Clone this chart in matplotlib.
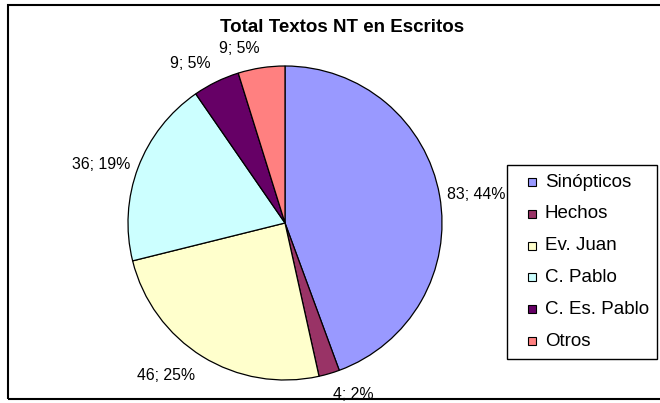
import numpy as np
import matplotlib
matplotlib.use('Agg')
import matplotlib.pyplot as plt
from matplotlib.patches import Rectangle

plt.rcParams['font.family'] = ['Liberation Sans', 'DejaVu Sans']

# datos del grafico
categorias = ['Sinópticos', 'Hechos', 'Ev. Juan', 'C. Pablo', 'C. Es. Pablo', 'Otros']
textos = [83, 4, 46, 36, 9, 9]
colores = ['#9999FF', '#993366', '#FFFFCC', '#CCFFFF', '#660066', '#FF8080']
titulo = 'Total Textos NT en Escritos'

W, H = 660, 403
fig = plt.figure(figsize=(W / 100, H / 100), dpi=100)

def px(x, y):
    # pixeles (origen arriba a la izquierda) -> coordenadas de figura
    return x / W, 1 - y / H

# borde del area del grafico (el lado derecho queda fuera de la imagen)
fig.patches.append(Rectangle(px(8, 399), 700 / W, 394 / H,
                             transform=fig.transFigure, fill=False,
                             edgecolor='black', linewidth=1.5))

# centro (285, 223) px, radio 157 px
cx, cy, r = 285, 223, 157
ax = fig.add_axes([(cx - r) / W, (H - cy - r) / H, 2 * r / W, 2 * r / H])
wedges, _ = ax.pie(textos, colors=colores, startangle=90, counterclock=False,
                   radius=1.0, wedgeprops=dict(edgecolor='black', linewidth=0.9))
ax.set_xlim(-1, 1)
ax.set_ylim(-1, 1)
ax.set_aspect('equal')
ax.axis('off')

total = sum(textos)
for w, v in zip(wedges, textos):
    th = np.deg2rad((w.theta1 + w.theta2) / 2)
    c, s = np.cos(th), np.sin(th)
    ha = 'left' if c > 0.1 else ('right' if c < -0.1 else 'center')
    if s > 0.5:
        va, R = 'bottom', 1.075
    elif s < -0.5:
        va, R = 'top', 1.09
    else:
        va, R = 'center', 1.05
    ax.text(R * c, R * s, '%d; %d%%' % (v, round(100.0 * v / total)),
            ha=ha, va=va, fontsize=11.4, color='black')

fig.text(*px(342, 27), titulo, ha='center', va='center',
         fontsize=13.5, fontweight='bold')

# leyenda
x0, y0, x1, y1 = 507, 165, 657, 359
fig.patches.append(Rectangle(px(x0, y1), (x1 - x0) / W, (y1 - y0) / H,
                             transform=fig.transFigure, facecolor='white',
                             edgecolor='black', linewidth=1.0))
for i, (cat, col) in enumerate(zip(categorias, colores)):
    yc = 182 + 31.8 * i
    fig.patches.append(Rectangle(px(528, yc + 4), 8 / W, 8 / H,
                                 transform=fig.transFigure, facecolor=col,
                                 edgecolor='black', linewidth=0.8))
    fig.text(*px(545, yc), cat, ha='left', va='center', fontsize=13.5)

fig.savefig('out.png', dpi=100)
